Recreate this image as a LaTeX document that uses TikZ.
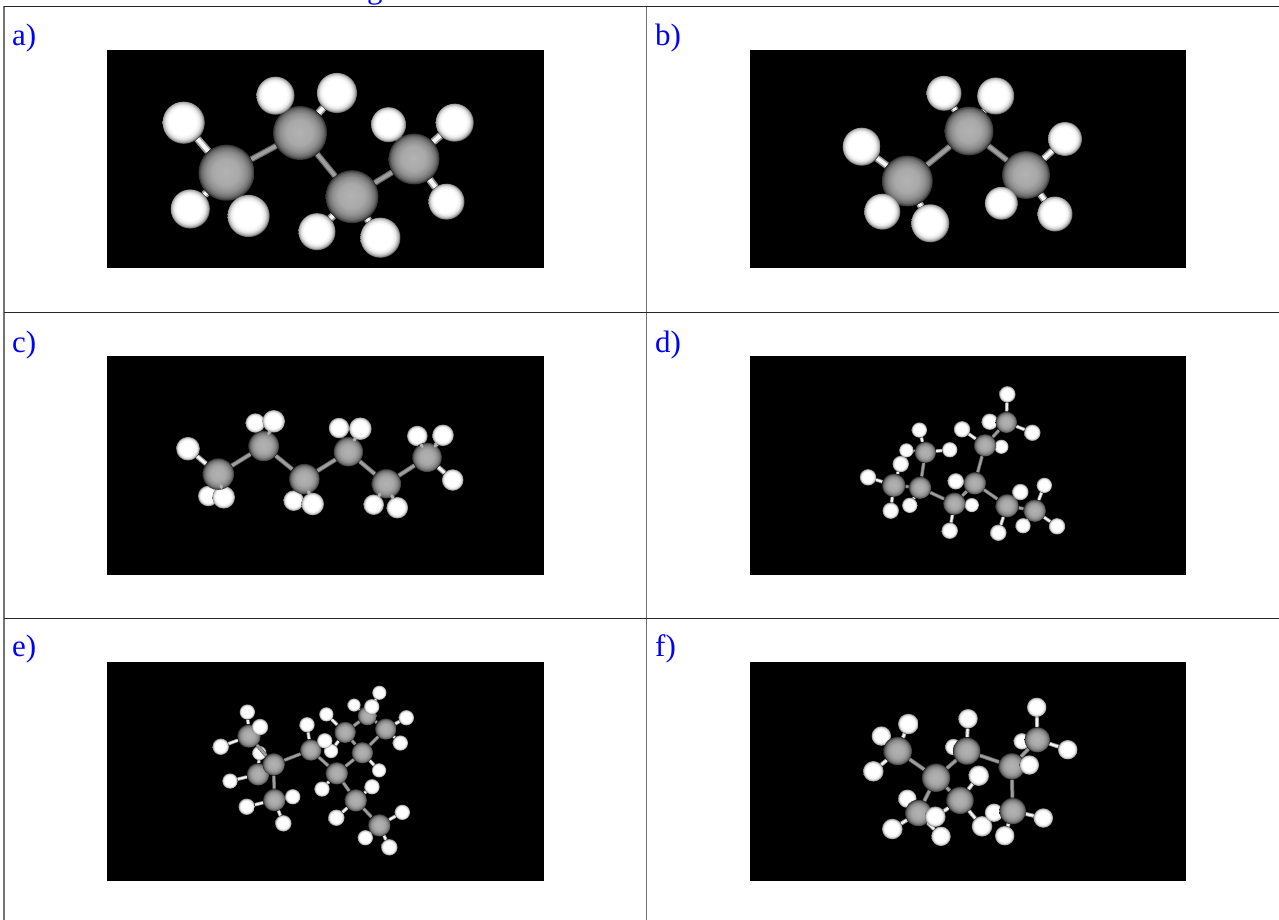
\documentclass[tikz,border=0pt]{standalone}
\usepackage{fontspec}
\setmainfont{Liberation Serif}
\usetikzlibrary{calc}
\pgfdeclarelayer{bk}
\pgfdeclarelayer{bonds}
\pgfdeclarelayer{top}
\pgfsetlayers{bk,bonds,main,top}
\pgfdeclareradialshading{ballC}{\pgfpoint{-0.8bp}{0.8bp}}{
  color(0bp)=(black!30); color(12bp)=(black!34); color(18bp)=(black!44);
  color(22bp)=(black!58); color(24.5bp)=(black!78); color(26bp)=(black!92); color(50bp)=(black!92)}
\pgfdeclareradialshading{ballH}{\pgfpoint{-2bp}{2bp}}{
  color(0bp)=(white); color(16bp)=(white); color(20bp)=(black!8);
  color(23.5bp)=(black!32); color(26bp)=(black!75); color(50bp)=(black!75)}
\definecolor{labelblue}{RGB}{0,0,255}
\tikzset{
  atomC/.style={circle,inner sep=0pt,draw=none,shade,shading=ballC,minimum size=#1},
  atomH/.style={circle,inner sep=0pt,draw=none,shade,shading=ballH,minimum size=#1},
  bondC/.style={line width=#1,draw=black!60,postaction={draw=black!38,line width=0.6*#1}},
  bondH/.style={line width=#1,draw=black!40,postaction={draw=black!4,line width=0.55*#1}},
  knob/.style={line width=3pt,draw=black!30,line cap=round},
  panel/.style={fill=black,draw=none,inner sep=0pt,minimum width=#1,minimum height=218.5pt},
  rule/.style={draw=black!85,line width=0.9pt},
  vrule/.style={draw=black!55,line width=1.3pt},
  lab/.style={text=labelblue,font=\fontsize{31}{31}\selectfont,anchor=base west,inner sep=0pt}
}
\newcommand{\backH}[1]{\begin{pgfonlayer}{bk}\foreach \n/\x/\y/\r in {#1}{\node[atomH=\r*2.06pt] (\n) at (\x,\y) {};}\end{pgfonlayer}}
\newcommand{\carbons}[1]{\foreach \n/\x/\y/\r in {#1}{\node[atomC=\r*2.04pt] (\n) at (\x,\y) {};}}
\newcommand{\frontH}[1]{\foreach \n/\x/\y/\r in {#1}{\node[atomH=\r*2.06pt] (\n) at (\x,\y) {};}}
\newcommand{\ccbonds}[2]{\begin{pgfonlayer}{bonds}\foreach \a/\b in {#2}{\draw[bondC=#1] (\a) -- (\b);}\end{pgfonlayer}}
\newcommand{\chbonds}[2]{\begin{pgfonlayer}{bonds}\foreach \a/\b in {#2}{\draw[bondH=#1] (\a) -- (\b);}\end{pgfonlayer}}
\newcommand{\knobs}[1]{\begin{pgfonlayer}{top}\foreach \a/\b in {#1}{\draw[knob] ($(\a.center)!.5!(\b.center)$) -- ($(\a.center)!.58!(\b.center)$);}\end{pgfonlayer}}
\begin{document}
\begin{tikzpicture}[x=1pt,y=-1pt]
\useasboundingbox (0,0) rectangle (1279,920);
\begin{pgfonlayer}{bk}
\fill[white] (0,0) rectangle (1279,920);
\end{pgfonlayer}
\begin{scope}
\clip (0,0) rectangle (1279,6);
\node[lab] (title) at (367,-1.5) {g};
\end{scope}
% table
\coordinate (tl) at (4,6.5); \coordinate (tr) at (1279,6.5);
\coordinate (ml) at (4,312.5); \coordinate (mr) at (1279,312.5);
\coordinate (nl) at (4,618.5); \coordinate (nr) at (1279,618.5);
\coordinate (bl) at (4,920); \coordinate (tm) at (646.5,6.5); \coordinate (bm) at (646.5,920);
\draw[vrule] (tl) -- (bl); \draw[vrule] (tm) -- (bm);
\draw[rule] (tl) -- (tr); \draw[rule] (ml) -- (mr); \draw[rule] (nl) -- (nr);
\node[lab] (la) at (12,46) {a)};
\node[lab] (lb) at (655,46) {b)};
\node[lab] (lc) at (12,352) {c)};
\node[lab] (ld) at (655,352) {d)};
\node[lab] (le) at (12,656) {e)};
\node[lab] (lf) at (655,656) {f)};
\begin{pgfonlayer}{bk}
\node[panel=437pt] (pa) at (325.5,159) {};
\node[panel=436pt] (pb) at (968,159) {};
\node[panel=437pt] (pc) at (325.5,465.5) {};
\node[panel=436pt] (pd) at (968,465.5) {};
\node[panel=437pt] (pe) at (325.5,771.5) {};
\node[panel=436pt] (pf) at (968,771.5) {};
\end{pgfonlayer}
% ---- a
\carbons{a1/226.5/172.7/27.5,a2/300/133/26.5,a3/352/196.7/26,a4/414/159/25}
\frontH{ah1/183.7/122.7/20.5,ah2/190.3/209/19,ah3/248.6/216/20.5,ah4/275.5/95.7/18.5,ah5/337/93/19.5,ah6/317/231.7/18,ah7/380.4/237.7/19.5,ah8/388.6/124.7/17,ah9/454.7/122.7/18.5,ah10/446.5/201.7/17.5}
\ccbonds{6pt}{a1/a2,a2/a3,a3/a4}
\chbonds{7.5pt}{a1/ah1,a1/ah2,a1/ah3,a2/ah4,a2/ah5,a3/ah6,a3/ah7,a4/ah8,a4/ah9,a4/ah10}
% ---- b
\carbons{b1/907.3/181/25,b2/969/131/24,b3/1026/175/23.5}
\frontH{bh1/861.7/146.7/18.5,bh2/882.3/211.7/17.5,bh3/930.3/223.3/18.5,bh4/944/93.3/17,bh5/995.7/96/18,bh6/1065/139/16.5,bh7/1001.3/203.3/16,bh8/1055/214/17}
\ccbonds{6pt}{b1/b2,b2/b3}
\chbonds{7pt}{b1/bh1,b1/bh2,b1/bh3,b2/bh4,b2/bh5,b3/bh6,b3/bh7,b3/bh8}
% ---- c
\backH{ch1/188/448.7/11.5,ch2/208.3/496/10,ch3/223.7/497.3/11,ch4/255.3/423/9.5,ch5/273.7/421.3/11,ch6/293.7/500.7/10,ch7/312.7/504/11,ch8/339/428/10,ch9/360.3/428.7/11,ch10/373.7/504.7/10,ch11/397.3/507.7/10.5,ch12/417.3/436/10,ch13/443/435.3/10.5,ch14/452.7/480/10.5}
\carbons{c1/218.3/474/15.5,c2/263.7/446/15,c3/304.3/479/15,c4/348.3/451.7/14.5,c5/386.3/483.7/14.5,c6/427/457.3/14.5}
\ccbonds{4.5pt}{c1/c2,c2/c3,c3/c4,c4/c5,c5/c6}
\chbonds{5pt}{c1/ch1,c1/ch2,c1/ch3,c2/ch4,c2/ch5,c3/ch6,c3/ch7,c4/ch8,c4/ch9,c5/ch10,c5/ch11,c6/ch12,c6/ch13,c6/ch14}
\knobs{c1/ch3,c2/ch5,c3/ch7,c4/ch9,c5/ch10,c5/ch11,c6/ch13,c6/ch12}
% ---- d
\backH{dh1/868/477.3/8,dh2/900.7/464/8,dh3/906.3/450.3/7,dh4/919.3/430/7.5,dh5/949.7/449.7/7.5,dh6/890.7/510.7/8,dh7/909.7/505.3/7.5,dh8/971.7/505/7,dh9/949.7/530.7/8,dh10/962/429.3/8,dh11/1001.3/446.7/7,dh12/989.7/421.7/8,dh13/1007.3/394.3/8,dh14/1032.3/432.7/8,dh15/1023/525.7/7.5,dh16/998.3/532.7/8,dh17/1044.3/485.3/7.5,dh18/1057/526.3/8}
\carbons{d1/893.7/485.3/11.5,d2/920/487.7/11,d3/925.3/452.3/10.5,d4/954.3/503.7/11,d5/974.7/483.3/11,d6/985/445.3/11,d7/1006.3/422.3/10.5,d8/1007/505.7/11.5,d9/1034.7/510.7/11}
\frontH{dh19/955.7/481.3/8,dh20/1020.3/492/8}
\ccbonds{3.5pt}{d1/d2,d2/d3,d2/d4,d4/d5,d5/d6,d5/d8,d6/d7,d8/d9}
\chbonds{3.5pt}{d1/dh1,d1/dh2,d1/dh6,d2/dh7,d3/dh3,d3/dh4,d3/dh5,d4/dh8,d4/dh9,d5/dh19,d6/dh10,d6/dh11,d7/dh12,d7/dh13,d7/dh14,d8/dh20,d8/dh16,d9/dh15,d9/dh17,d9/dh18}
% ---- e
\backH{eh1/247.3/712/7.5,eh3/220.7/746.7/8,eh4/259.3/753/7,eh5/230/781/7.5,eh6/246.7/806.7/8,eh8/283.3/823.3/8,eh9/307/724.7/7.5,eh11/331/751/7,eh12/326.3/714.3/7,eh13/354/705/6.5,eh15/379.3/692.7/7,eh16/406.3/717.7/7.5,eh17/400.3/743/7.5,eh18/379/770.3/7,eh19/322/789/7.5,eh20/372/786.7/7.5,eh21/336.3/817.7/8,eh22/402.3/812.3/7.5,eh23/365.3/837.7/7.5,eh24/389.3/847.3/8}
\carbons{e2/258/774.3/11,e1/249/736/11.5,e3/273.7/764.3/11,e4/274.3/800/11,e5/310.7/750/10.5,e6/336.7/773.3/11,e7/345/732.3/10.5,e8/362.3/752.7/10.5,e9/367.3/715.7/9.5,e10/385.7/729/10.5,e11/355.7/800.3/11,e12/379.3/825.3/11}
\frontH{eh2/260/727/8,eh7/292.7/796.7/7.5,eh10/324.7/740.7/7.5,eh14/371.7/706.7/7.5}
\ccbonds{3.5pt}{e1/e3,e2/e3,e3/e4,e3/e5,e5/e6,e6/e8,e7/e8,e7/e9,e9/e10,e10/e8,e6/e11,e11/e12}
\chbonds{3.5pt}{e1/eh1,e1/eh2,e1/eh3,e2/eh4,e2/eh5,e4/eh6,e4/eh7,e4/eh8,e5/eh9,e5/eh10,e7/eh11,e7/eh12,e9/eh13,e9/eh14,e9/eh15,e10/eh16,e10/eh17,e8/eh18,e6/eh19,e11/eh20,e11/eh21,e12/eh22,e12/eh23,e12/eh24}
% ---- f
\backH{fh1/881.3/736/9.5,fh2/908.3/724/10,fh3/873.3/771.3/10,fh4/968/718.7/9.5,fh5/953.3/747/8,fh6/978.7/775.7/10,fh7/907.3/798.7/9,fh8/892.3/829/10,fh10/941/836.3/9.5,fh11/982/826.3/10,fh12/994/812.7/9,fh13/1004.7/835.7/9.5,fh14/1043.3/818/9.5,fh16/1021.7/741.3/8,fh17/1036.7/707.3/9.5,fh18/1067.7/749.7/9.5}
\carbons{f1/897.7/751/14,f2/936/777.7/14,f3/966.7/751/13.5,f4/1011.7/766.3/13,f5/960/800.3/13.5,f6/918.3/813/13,f7/1012.7/811/13,f8/1037.3/739.7/12.5}
\frontH{fh9/935.3/816.7/10,fh15/1029.3/765/9.5}
\ccbonds{4pt}{f1/f2,f2/f3,f2/f5,f2/f6,f3/f4,f4/f7,f4/f8}
\chbonds{4pt}{f1/fh1,f1/fh2,f1/fh3,f3/fh4,f3/fh5,f5/fh6,f5/fh9,f5/fh11,f6/fh7,f6/fh8,f6/fh10,f7/fh12,f7/fh13,f7/fh14,f4/fh15,f8/fh16,f8/fh17,f8/fh18}
\end{tikzpicture}
\end{document}
